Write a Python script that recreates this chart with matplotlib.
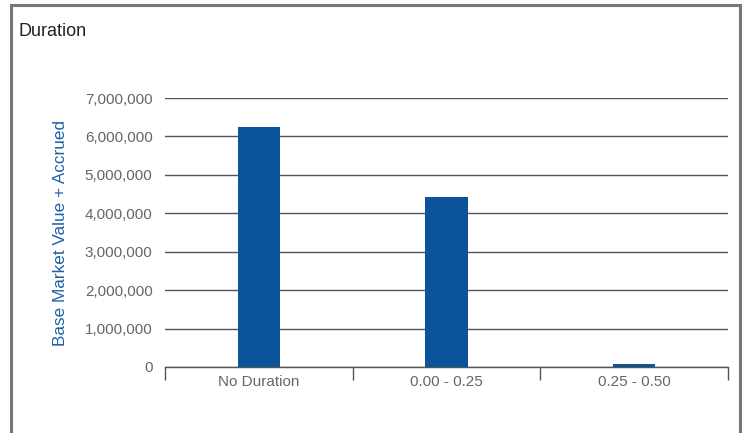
import matplotlib
matplotlib.use("Agg")
import matplotlib.pyplot as plt
from matplotlib.patches import Rectangle
from matplotlib.ticker import FuncFormatter

categories = ["No Duration", "0.00 - 0.25", "0.25 - 0.50"]
values = [6250000, 4430000, 80000]
yticks = [0, 1000000, 2000000, 3000000, 4000000, 5000000, 6000000, 7000000]

plt.rcParams['font.family'] = ['Liberation Sans', 'DejaVu Sans']

fig = plt.figure(figsize=(7.46, 4.33), dpi=100)
fig.patches.append(Rectangle((11/746, -0.05), (740-11)/746, 1.05 - 5/433,
                             transform=fig.transFigure, fill=False,
                             edgecolor='#777777', linewidth=2.2, zorder=0))
fig.text(18/746, 1 - 31/433, "Duration", fontsize=13, color='#222222', va='center', ha='left')

ax = fig.add_axes([165/746, 1 - 367/433, (728-165)/746, (367-98)/433])
x = list(range(len(categories)))
ax.bar(x, values, width=0.225, color='#0b549b', zorder=3)
ax.set_xlim(-0.5, len(categories) - 0.5)
ax.set_ylim(0, 7000000)
ax.set_yticks(yticks)
ax.yaxis.set_major_formatter(FuncFormatter(lambda v, p: f"{int(v):,}"))
ax.set_xticks(x)
ax.set_xticklabels(categories)
ax.set_xticks([-0.5, 0.5, 1.5, 2.5], minor=True)
ax.tick_params(axis='x', which='major', length=0, pad=6, labelsize=11, labelcolor='#666666')
ax.tick_params(axis='x', which='minor', length=9, width=1, color='#555555', direction='out')
ax.tick_params(axis='y', length=0, pad=9, labelsize=11, labelcolor='#666666')
for lbl in ax.get_yticklabels():
    lbl.set_verticalalignment('center_baseline')
ax.grid(axis='y', color='#555555', linewidth=1, zorder=0)
for s in ['top', 'right', 'left']:
    ax.spines[s].set_visible(False)
ax.spines['bottom'].set_color('#555555')
ax.spines['bottom'].set_linewidth(1)
ax.set_ylabel("Base Market Value + Accrued", color='#1f5fa8', fontsize=12.3, labelpad=12)

fig.savefig("out.png", dpi=100)
